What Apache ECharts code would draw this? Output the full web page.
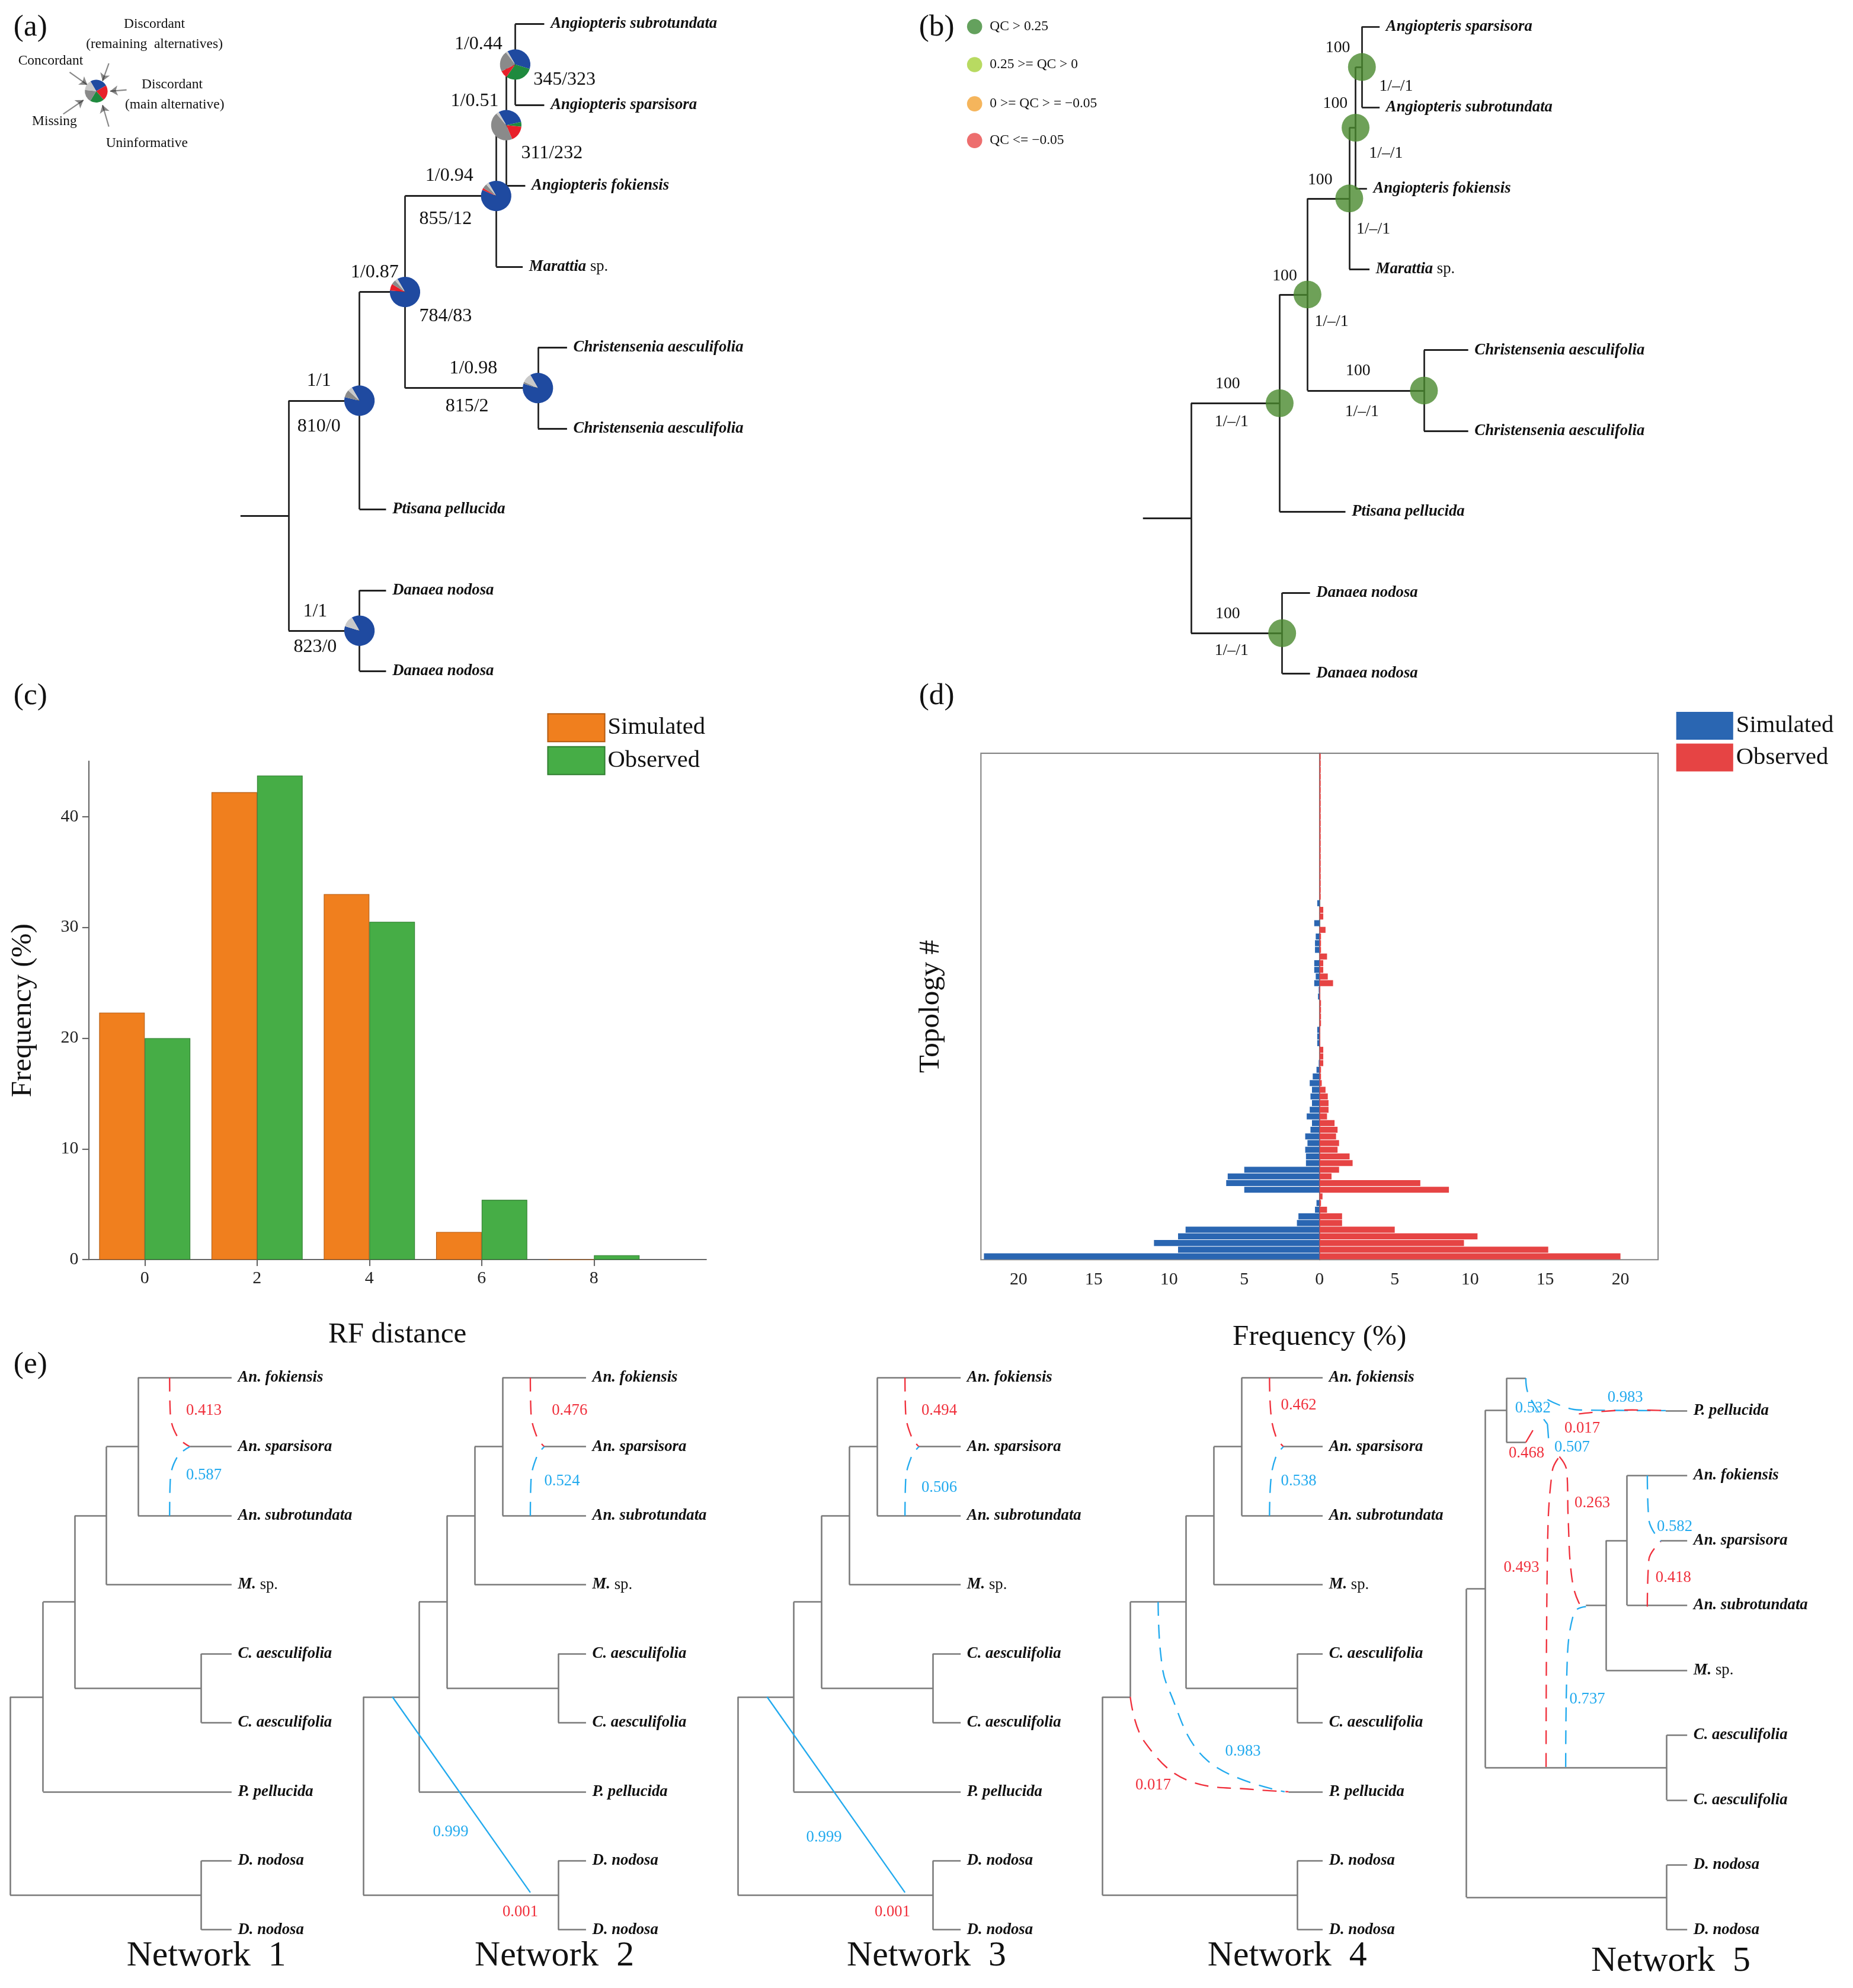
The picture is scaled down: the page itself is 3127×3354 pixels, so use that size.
<!DOCTYPE html>
<html><head><meta charset="utf-8">
<script src="https://cdn.jsdelivr.net/npm/echarts@6/dist/echarts.min.js"></script>
<style>html,body{margin:0;padding:0;background:#fff}#c{width:3127px;height:3354px}</style>
</head><body><div id="c"></div>
<script>
const S = 3127/1464;
const FF = '"Liberation Serif", "Times New Roman", serif';

// ---------- panel (c) data ----------
const rfCategories = [0, 2, 4, 6, 8];
const rfSimulated = [22.3, 42.2, 33.0, 2.5, 0];
const rfObserved = [20.0, 43.7, 30.5, 5.4, 0.4];
const freqCTicks = [0, 10, 20, 30, 40];

// ---------- panel (d) data (topologies, bottom to top) ----------
const topoSimulated = [22.3,9.4,11.0,9.4,8.9,1.5,1.4,0.3,0.2,0, 5.0,6.2,6.1,5.0,0.9,0.9,0.95,0.8,0.95,0.6, 0.5,0.85,0.65,0.5,0.6,0.5,0.65,0.45,0.2,0.05, 0,0,0.15,0.15,0.15,0,0,0,0,0.1, 0.05,0.35,0.25,0.35,0.35,0,0.3,0.3,0.25,0, 0.35,0,0,0.15,0,0,0,0,0,0, 0,0,0,0,0,0,0,0,0,0, 0,0,0,0,0,0];
const topoObserved = [20.0,15.2,9.6,10.5,5.0,1.5,1.5,0.5,0.1,0.2, 8.6,6.7,0.8,1.3,2.2,2.0,1.2,1.3,1.1,1.2, 1.0,0.5,0.6,0.6,0.55,0.4,0.15,0.1,0.1,0.25, 0.25,0.25,0.05,0.05,0.05,0.1,0.1,0.1,0.1,0.05, 0.05,0.9,0.55,0.25,0.25,0.5,0.1,0.1,0.1,0.4, 0,0.25,0.25,0,0.08,0.08,0.08,0.08,0.08,0.08, 0.08,0.08,0.08,0.08,0.08,0.08,0.08,0.08,0.08,0.08, 0.08,0.08,0.08,0.08,0.08,0.08];
const topoCategories = topoSimulated.map((_, i) => String(i + 1));
const freqTicks = [-20,-15,-10,-5,0,5,10,15,20];

// ---------- trees (branch positions x, leaf order) ----------
const L = (n, x, extra) => Object.assign({n, x}, extra || {});
const treeA = {x:228, stem:190, c:[
  {x:284, c:[
    {x:320, c:[
      {x:392, c:[
        {x:400, c:[ {x:407, c:[L('Angiopteris subrotundata',430), L('Angiopteris sparsisora',430)]}, L('Angiopteris fokiensis',415)]},
        L('Marattia|sp.',413)]},
      {x:425, c:[L('Christensenia aesculifolia',448), L('Christensenia aesculifolia',448)]}]},
    L('Ptisana pellucida',305)]},
  {x:284, c:[L('Danaea nodosa',305), L('Danaea nodosa',305)]}]};
const treeB = {x:941, stem:903, c:[
  {x:1011, c:[
    {x:1033, c:[
      {x:1066, c:[
        {x:1071, c:[ {x:1076, c:[L('Angiopteris sparsisora',1090), L('Angiopteris subrotundata',1090)]}, L('Angiopteris fokiensis',1080)]},
        L('Marattia|sp.',1082)]},
      {x:1125, c:[L('Christensenia aesculifolia',1160), L('Christensenia aesculifolia',1160)]}]},
    L('Ptisana pellucida',1063)]},
  {x:1013, c:[L('Danaea nodosa',1035), L('Danaea nodosa',1035)]}]};

function netBasic(o){ // network 1
  const X = v => v + o;
  return {x:X(8), c:[
    {x:X(34), c:[
      {x:X(59), c:[
        {x:X(84), c:[
          {x:X(109), c:[L('An. fokiensis',X(183)), L('An. sparsisora',X(183),{free:true,from:X(150)}), L('An. subrotundata',X(183))]},
          L('M.|sp.',X(183))]},
        {x:X(159), c:[L('C. aesculifolia',X(183)), L('C. aesculifolia',X(183))]}]},
      L('P. pellucida',X(183))]},
    {x:X(159), c:[L('D. nodosa',X(183)), L('D. nodosa',X(183))]}]};
}
const net1 = netBasic(0);
const net2 = {x:287, c:[
  {x:331, c:[
    {x:353, c:[
      {x:375, c:[
        {x:397, c:[L('An. fokiensis',463), L('An. sparsisora',463,{free:true,from:430}), L('An. subrotundata',463)]},
        L('M.|sp.',463)]},
      {x:441, c:[L('C. aesculifolia',463), L('C. aesculifolia',463)]}]},
    L('P. pellucida',463)]},
  {x:441, c:[L('D. nodosa',463), L('D. nodosa',463)]}]};
function shift(t, o){ const r = Object.assign({}, t, {x:t.x+o}); if (t.from!==undefined) r.from=t.from+o; if (t.c) r.c=t.c.map(ch=>shift(ch,o)); return r; }
const net3 = shift(net2, 296);
const net4 = {x:871, c:[
  {x:893, c:[
    {x:937, c:[
      {x:959, c:[
        {x:981, c:[L('An. fokiensis',1045), L('An. sparsisora',1045,{free:true,from:1014}), L('An. subrotundata',1045)]},
        L('M.|sp.',1045)]},
      {x:1025, c:[L('C. aesculifolia',1045), L('C. aesculifolia',1045)]}]},
    L('P. pellucida',1045,{free:true,from:1018})]},
  {x:1025, c:[L('D. nodosa',1045), L('D. nodosa',1045)]}]};
const net5 = {x:1158.6, c:[
  {x:1173.4, c:[
    {x:1190.2, c:[{x:1205.5, y:-0.5}, L('P. pellucida',1333,{free:true,from:1316}), {x:1205.5, y:0.49}]},
    {x:1269, free:true, from:1253, c:[
      {x:1285.5, c:[L('An. fokiensis',1333), L('An. sparsisora',1333,{free:true,from:1312}), L('An. subrotundata',1333)]},
      L('M.|sp.',1333)]},
    {x:1316.8, c:[L('C. aesculifolia',1333), L('C. aesculifolia',1333)]}]},
  {x:1316.8, c:[L('D. nodosa',1333), L('D. nodosa',1333)]}]};

// reticulation edges: [x, leaf-index] points
const RED = '#f0303c', BLUE = '#22aaee';
const retic = [
  {net:1, col:RED, pts:[[134,0],[134.5,0.5],[140,0.85],[150,1]]},
  {net:1, col:BLUE, pts:[[134,2],[134.5,1.5],[140,1.15],[150,1]]},
  {net:2, col:RED, pts:[[419,0],[419.5,0.5],[424,0.85],[430,1]]},
  {net:2, col:BLUE, pts:[[419,2],[419.5,1.5],[424,1.15],[430,1]]},
  {net:3, col:RED, pts:[[715,0],[715.5,0.5],[720,0.85],[726,1]]},
  {net:3, col:BLUE, pts:[[715,2],[715.5,1.5],[720,1.15],[726,1]]},
  {net:4, col:RED, pts:[[1003,0],[1004,0.5],[1008,0.85],[1014,1]]},
  {net:4, col:BLUE, pts:[[1003,2],[1004,1.5],[1008,1.15],[1014,1]]},
  {net:4, col:RED, pts:[[893,4.625],[904,5.27],[942,5.86],[992,5.97],[1018,6]]},
  {net:4, col:BLUE, pts:[[915,3.25],[917,4.0],[923,4.5],[954,5.55],[1015,6]]},
  {net:5, col:RED, pts:[[1221.5,5.49],[1222.6,2.18],[1226.4,0.93],[1232,0.71]]},
  {net:5, col:BLUE, pts:[[1237,5.49],[1237.9,4.05],[1243.6,3.11],[1253,3.02]]},
  {net:5, col:RED, pts:[[1232,0.71],[1237.9,0.93],[1239,1.68],[1241.7,2.55],[1247.4,2.96],[1253,3.02]]},
  {net:5, col:BLUE, pts:[[1205.5,-0.5],[1207.4,-0.26],[1222.6,0.21]]},
  {net:5, col:BLUE, pts:[[1222.6,-0.17],[1247.4,-0.01],[1316,0]]},
  {net:5, col:RED, pts:[[1247.4,0.05],[1289.4,-0.01],[1316,0]]},
  {net:5, col:RED, pts:[[1205.5,0.49],[1211.2,0.3]]},
  {net:5, col:BLUE, pts:[[1222.6,0.21],[1223.8,0.52]]},
  {net:5, col:BLUE, pts:[[1301.5,1],[1302.7,1.68],[1312.2,2.02]]},
  {net:5, col:RED, pts:[[1301.5,3.02],[1302.7,2.3],[1312.2,2.02]]}
];
const diag = [ {net:2, pts:[[310,4.625],[419,7.46]]}, {net:3, pts:[[606,4.625],[715,7.46]]} ];

// pie fractions: concordant, main alt, remaining alt, uninformative, missing
const pieColors = ['#1f4aa0','#1f8a3e','#e8202a','#8a8a8a','#c9c9c9'];
const pieA = [[0.38,0.3,0.08,0.22,0.02],[0.3,0.05,0.17,0.45,0.03],[0.9,0,0.02,0.05,0.03],[0.85,0,0.07,0.05,0.03],[0.88,0,0,0.02,0.1],[0.87,0,0,0.08,0.05],[0.88,0,0,0,0.12]];

// ---------- layout ----------
function layout(tree, y0, dy){
  let idx = 0; const segs = [], leaves = [], nodes = [];
  function walk(n){
    if (!n.c){ const yi = n.y !== undefined ? n.y : idx++; n._y = yi; if (n.n) leaves.push(n); return yi; }
    const ys = n.c.map(walk);
    n._y = (Math.min(...ys) + Math.max(...ys)) / 2;
    const fixed = n.c.filter(ch => !ch.free).map(ch => ch._y).concat([n._y]);
    segs.push([[n.x, Math.min(...fixed)], [n.x, Math.max(...fixed)]]);
    n.c.forEach(ch => segs.push([[ch.free ? ch.from : n.x, ch._y], [ch.x, ch._y]]));
    nodes.push(n);
    return n._y;
  }
  walk(tree);
  if (tree.stem !== undefined) segs.push([[tree.stem, tree._y], [tree.x, tree._y]]);
  const Y = v => y0 + v * dy;
  return {
    Y,
    segs: segs.map(s => s.map(p => [p[0], Y(p[1])])),
    leaves: leaves.map(l => ({n:l.n, x:l.x, y:Y(l._y)})),
    nodes: nodes.map(n => ({x:n.x, y:Y(n._y)}))
  };
}
const LA = layout(treeA, 19, 63.875);
const LB = layout(treeB, 21, 63.875);
const NETY = {1:[1088,54.5],2:[1088,54.5],3:[1088,54.5],4:[1088,54.5],5:[1114,51.25]};
const LN = {1:layout(net1,...NETY[1]),2:layout(net2,...NETY[2]),3:layout(net3,...NETY[3]),4:layout(net4,...NETY[4]),5:layout(net5,...NETY[5])};

function linesSeries(segs, color, w){
  return {type:'lines', coordinateSystem:'cartesian2d', xAxisIndex:0, yAxisIndex:0, silent:true, animation:false,
    lineStyle:{color, width:w*S, opacity:1}, data:segs.map(s => ({coords:s}))};
}
const series = [];
series.push(linesSeries(LA.segs, '#222', 1.3));
series.push(linesSeries(LB.segs, '#222', 1.3));
for (const k of [1,2,3,4,5]) series.push(linesSeries(LN[k].segs, '#7a7a7a', 1.2));
retic.forEach(r => {
  const Y = LN[r.net].Y;
  series.push({type:'line', xAxisIndex:0, yAxisIndex:0, smooth:0.4, symbol:'none', silent:true, animation:false,
    lineStyle:{color:r.col, width:1.1*S, type:[11*S, 7*S]}, data:r.pts.map(p => [p[0], Y(p[1])])});
});
diag.forEach(d => {
  const Y = LN[d.net].Y;
  series.push({type:'line', xAxisIndex:0, yAxisIndex:0, symbol:'none', silent:true, animation:false,
    lineStyle:{color:BLUE, width:1.1*S}, data:d.pts.map(p => [p[0], Y(p[1])])});
});
// legend arrows panel a
series.push({type:'lines', coordinateSystem:'cartesian2d', xAxisIndex:0, yAxisIndex:0, silent:true, animation:false,
  symbol:['none','arrow'], symbolSize:6*S, lineStyle:{color:'#111', width:1*S},
  data:[[[55,57],[69,67]],[[86,50],[81,64]],[[100,71],[87,72]],[[50,90],[66,79]],[[86,100],[81,83]]].map(c => ({coords:c}))});
// tree b node circles (internal nodes except the root)
series.push({type:'scatter', xAxisIndex:0, yAxisIndex:0, symbolSize:22*S, silent:true, animation:false,
  itemStyle:{color:'#4a8a2e'}, data:LB.nodes.slice(0, -1).map(n => [n.x, n.y])});
// legend circles b
const qcColors = ['#3d8a35','#a6d13a','#f2a233','#e84a4a'];
const qcLabels = ['QC > 0.25','0.25 >= QC > 0','0 >= QC > = \u22120.05','QC <= \u22120.05'];
const qcY = [21,51,82,111];
series.push({type:'scatter', xAxisIndex:0, yAxisIndex:0, symbolSize:12*S, silent:true, animation:false,
  data:qcY.map((y,i) => ({value:[770,y], itemStyle:{color:qcColors[i]}}))});

// panel c bars
series.push({name:'Simulated', type:'bar', xAxisIndex:1, yAxisIndex:1, barWidth:36*S, barGap:'0%', animation:false,
  itemStyle:{color:'#f07f1e', borderColor:'#b35a10', borderWidth:0.5*S}, data:rfCategories.map((c,i) => [c, rfSimulated[i]])});
series.push({name:'Observed', type:'bar', xAxisIndex:1, yAxisIndex:1, barWidth:36*S, barGap:'0%', animation:false,
  itemStyle:{color:'#46ad46', borderColor:'#2f7d2f', borderWidth:0.5*S}, data:rfCategories.map((c,i) => [c, rfObserved[i]])});
// panel d bars
series.push({name:'Simulated ', type:'bar', xAxisIndex:2, yAxisIndex:2, stack:'t', barCategoryGap:'10%', animation:false,
  itemStyle:{color:'#2a66b2'}, data:topoSimulated.map(v => -v)});
series.push({name:'Observed ', type:'bar', xAxisIndex:2, yAxisIndex:2, stack:'t', barCategoryGap:'10%', animation:false,
  itemStyle:{color:'#e64444'}, data:topoObserved});

const axisTxt = {fontFamily:FF, fontSize:14*S, color:'#222'};
const option = {
  backgroundColor:'#fff', animation:false,
  grid:[
    {left:0, top:0, width:3127, height:3354},
    {left:70*S, top:(995-45*8.75)*S, width:488*S, height:45*8.75*S},
    {left:775*S, top:595*S, width:535*S, height:400*S, show:true, borderColor:'#888', borderWidth:1*S}
  ],
  xAxis:[
    {gridIndex:0, type:'value', min:0, max:1464, show:false},
    {gridIndex:1, type:'value', min:-1, max:10, splitLine:{show:false},
      axisLine:{onZero:false, lineStyle:{color:'#666', width:1*S}}, axisTick:{customValues:rfCategories, length:5*S, lineStyle:{color:'#666', width:1*S}},
      axisLabel:Object.assign({customValues:rfCategories, margin:8*S}, axisTxt),
      name:'RF distance', nameLocation:'middle', nameGap:48*S, nameTextStyle:{fontFamily:FF, fontSize:23*S, color:'#111'}},
    {gridIndex:2, type:'value', min:-22.5, max:22.5, splitLine:{show:false},
      axisLine:{lineStyle:{color:'#888', width:1*S}}, axisTick:{customValues:freqTicks, length:6*S, lineStyle:{color:'#888', width:1*S}},
      axisLabel:Object.assign({customValues:freqTicks, margin:9*S, formatter:v => String(Math.abs(v))}, axisTxt),
      name:'Frequency (%)', nameLocation:'middle', nameGap:50*S, nameTextStyle:{fontFamily:FF, fontSize:23*S, color:'#111'}}
  ],
  yAxis:[
    {gridIndex:0, type:'value', min:0, max:1570, inverse:true, show:false},
    {gridIndex:1, type:'value', min:0, max:45, splitLine:{show:false},
      axisLine:{show:true, onZero:false, lineStyle:{color:'#666', width:1*S}},
      axisTick:{show:true, customValues:freqCTicks, length:5*S, lineStyle:{color:'#666', width:1*S}},
      axisLabel:Object.assign({customValues:freqCTicks, margin:8*S}, axisTxt),
      name:'Frequency (%)', nameLocation:'middle', nameGap:40*S, nameTextStyle:{fontFamily:FF, fontSize:23*S, color:'#111'}},
    {gridIndex:2, type:'category', data:topoCategories, axisTick:{show:false}, axisLabel:{show:false},
      axisLine:{onZero:true, lineStyle:{color:'#777', width:1*S}},
      name:'Topology #', nameLocation:'middle', nameGap:28*S, nameTextStyle:{fontFamily:FF, fontSize:23*S, color:'#111'}}
  ],
  legend:[
    {data:['Simulated','Observed'], orient:'vertical', left:430*S, top:561*S, itemWidth:45*S, itemHeight:22*S, itemGap:3*S,
      textStyle:{fontFamily:FF, fontSize:19*S, color:'#111'}, icon:'rect'},
    {data:['Simulated ','Observed '], orient:'vertical', left:1322*S, top:560*S, itemWidth:45*S, itemHeight:22*S, itemGap:3*S,
      textStyle:{fontFamily:FF, fontSize:19*S, color:'#111'}, icon:'rect'}
  ],
  series
};
const chart = echarts.init(document.getElementById('c'), null, {renderer:'canvas'});
chart.setOption(option);

// ---------- second pass: texts and pies using pixel positions from the axes ----------
const P = (x, y) => chart.convertToPixel({gridIndex:0}, [x, y]);
const gr = [];
function T(x, y, text, size, o){
  o = o || {};
  const p = P(x, y);
  gr.push({type:'text', x:p[0], y:p[1], silent:true, style:Object.assign({text, fill:o.fill || '#111',
    font:`${o.style || ''} ${o.weight || ''} ${size*S}px ${FF}`, align:o.align || 'center', verticalAlign:o.va || 'middle'}, o.rich ? {rich:o.rich} : {})});
}
function leafLabels(lay, size){
  lay.leaves.forEach(l => {
    const parts = l.n.split('|');
    if (parts.length > 1){
      T(l.x + 5, l.y, `{i|${parts[0]}} {r|${parts[1]}}`, size, {align:'left', rich:{
        i:{fontFamily:FF, fontStyle:'italic', fontWeight:'bold', fontSize:size*S, fill:'#111'},
        r:{fontFamily:FF, fontSize:size*S, fill:'#111'}}});
    } else T(l.x + 5, l.y, l.n, size, {align:'left', style:'italic', weight:'bold'});
  });
}
leafLabels(LA, 12.5); leafLabels(LB, 12.5);
[1,2,3,4,5].forEach(k => leafLabels(LN[k], 12.5));

// panel labels
[['(a)',24,22],['(b)',740,22],['(c)',24,550],['(d)',740,550],['(e)',24,1078]].forEach(a => T(a[1], a[2], a[0], 24));
// legend (a)
[['Discordant',122,19],['(remaining  alternatives)',122,35],['Concordant',40,48],['Discordant',136,67],['(main alternative)',138,83],['Missing',43,96],['Uninformative',116,113]]
  .forEach(a => T(a[1], a[2], a[0], 11));
// node support (a)
[['1/0.44',378,35],['345/323',446,63],['1/0.51',375,80],['311/232',436,121],['1/0.94',355,139],['855/12',352,173],
 ['1/0.87',296,215],['784/83',352,250],['1/0.98',374,291],['815/2',369,321],['1/1',252,301],['810/0',252,337],['1/1',249,483],['823/0',249,511]]
  .forEach(a => T(a[1], a[2], a[0], 15));
// node support (b)
[['100',1057,38],['1/\u2013/1',1103,68],['100',1055,82],['1/\u2013/1',1095,121],['100',1043,142],['1/\u2013/1',1085,181],
 ['100',1015,218],['1/\u2013/1',1052,254],['100',1073,293],['1/\u2013/1',1076,325],['100',970,303],['1/\u2013/1',973,333],['100',970,485],['1/\u2013/1',973,514]]
  .forEach(a => T(a[1], a[2], a[0], 13));
qcLabels.forEach((t,i) => T(782, qcY[i], t, 11, {align:'left'}));
// inheritance probabilities (e)
[['0.413',147,1114,RED],['0.587',147,1165,BLUE],['0.476',436,1114,RED],['0.524',430,1170,BLUE],['0.999',342,1447,BLUE],['0.001',397,1510,RED],
 ['0.494',728,1114,RED],['0.506',728,1175,BLUE],['0.999',637,1451,BLUE],['0.001',691,1510,RED],
 ['0.462',1012,1110,RED],['0.538',1012,1170,BLUE],['0.983',968,1383,BLUE],['0.017',897,1410,RED],
 ['0.983',1270,1104,BLUE],['0.532',1197,1112,BLUE],['0.017',1236,1128,RED],['0.468',1192,1148,RED],['0.507',1228,1143,BLUE],
 ['0.263',1244,1187,RED],['0.582',1309,1206,BLUE],['0.418',1308,1246,RED],['0.493',1188,1238,RED],['0.737',1240,1342,BLUE]]
  .forEach(a => T(a[1], a[2], a[0], 12.5, {align:'left', fill:a[3]}));
[['Network  1',163,1545],['Network  2',438,1545],['Network  3',732,1545],['Network  4',1017,1545],['Network  5',1320,1549]]
  .forEach(a => T(a[1], a[2], a[0], 28));

// pies on tree (a) nodes; post-order of LA.nodes: N5, N4, N3, C, N2, N1, D, R
const pieNodes = [LA.nodes[0], LA.nodes[1], LA.nodes[2], LA.nodes[4], LA.nodes[3], LA.nodes[5], LA.nodes[6]];
const pieSeries = [];
pieNodes.forEach((n, i) => {
  const p = P(n.x, n.y);
  pieSeries.push({type:'pie', center:p, radius:12*S, startAngle:120, label:{show:false}, silent:true, animation:false,
    data:pieA[i].map((v,j) => ({value:v, itemStyle:{color:pieColors[j]}}))});
});
const lp = P(76, 72);
pieSeries.push({type:'pie', center:lp, radius:9*S, startAngle:120, label:{show:false}, silent:true, animation:false,
  data:[0.25,0.22,0.2,0.18,0.15].map((v,j) => ({value:v, itemStyle:{color:[pieColors[0],pieColors[2],pieColors[1],pieColors[3],pieColors[4]][j]}}))});

chart.setOption({graphic:gr, series:series.concat(pieSeries)});
</script></body></html>
